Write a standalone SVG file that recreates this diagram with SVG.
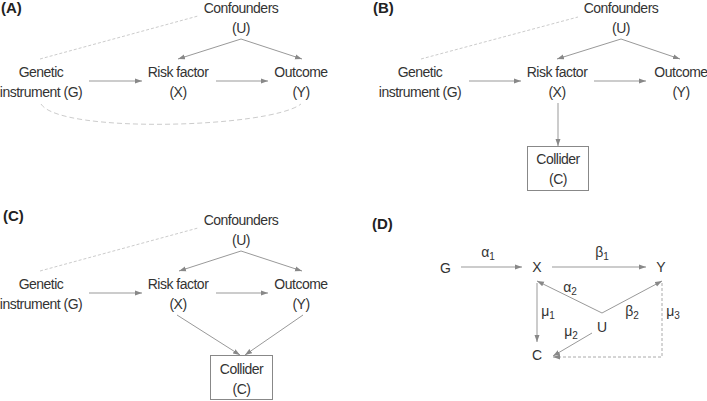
<svg xmlns="http://www.w3.org/2000/svg" width="707" height="401" viewBox="0 0 707 401">
<defs>
<marker id="ah" markerUnits="userSpaceOnUse" markerWidth="7" markerHeight="6" refX="7" refY="3" orient="auto">
<path d="M0,0.5 L7,3 L0,5.5 z" fill="#888"/>
</marker>
<style>
text{font-family:"Liberation Sans",Arial,sans-serif;fill:#333;font-size:14px;letter-spacing:-0.5px;text-anchor:middle}
.lbl{font-weight:bold;font-size:15px;letter-spacing:0;text-anchor:start;fill:#222}
.ar{stroke:#999;stroke-width:1;fill:none;marker-end:url(#ah)}
.dl{stroke:#ccc;stroke-width:1;fill:none;stroke-dasharray:3 2}
.dc{stroke:#ccc;stroke-width:1;fill:none;stroke-dasharray:5 3}
.dd{stroke:#aaa;stroke-width:1;fill:none;stroke-dasharray:3 2;marker-end:url(#ah)}
.box{fill:#fff;stroke:#888;stroke-width:1}
.sub{font-size:10px;letter-spacing:0}
.dn{letter-spacing:0}
</style>
</defs>
<rect width="707" height="401" fill="#fff"/>

<!-- Panel labels -->
<g id="labels">
<text class="lbl" x="1" y="13">(A)</text>
<text class="lbl" x="373" y="13">(B)</text>
<text class="lbl" x="3" y="221">(C)</text>
<text class="lbl" x="372" y="229">(D)</text>
</g>

<!-- Connectors -->
<g id="connectors">
<!-- A -->
<line class="dl" x1="40" y1="59" x2="198" y2="16"/>
<path class="dc" d="M41,104 C60,134 270,128 301,104"/>
<line class="ar" x1="89" y1="81" x2="142" y2="81"/>
<line class="ar" x1="216" y1="81" x2="268" y2="81"/>
<line class="ar" x1="241" y1="39" x2="178" y2="59"/>
<line class="ar" x1="241" y1="39" x2="302" y2="59"/>
<!-- B -->
<line class="dl" x1="421" y1="59" x2="578" y2="17"/>
<line class="ar" x1="469" y1="81" x2="521" y2="81"/>
<line class="ar" x1="594" y1="81" x2="646" y2="81"/>
<line class="ar" x1="621" y1="39" x2="557" y2="59"/>
<line class="ar" x1="621" y1="39" x2="680" y2="59"/>
<line class="ar" x1="558" y1="103" x2="558" y2="146"/>
<!-- C -->
<line class="dl" x1="40" y1="271" x2="198" y2="228"/>
<line class="ar" x1="89" y1="293" x2="142" y2="293"/>
<line class="ar" x1="216" y1="293" x2="268" y2="293"/>
<line class="ar" x1="241" y1="251" x2="179" y2="271"/>
<line class="ar" x1="241" y1="251" x2="302" y2="271"/>
<line class="ar" x1="177" y1="315" x2="240" y2="355"/>
<line class="ar" x1="303" y1="315" x2="245" y2="355"/>
<!-- D -->
<line class="ar" x1="461" y1="267" x2="522" y2="267"/>
<line class="ar" x1="552" y1="267" x2="646" y2="267"/>
<line class="ar" x1="602" y1="313" x2="537" y2="281"/>
<line class="ar" x1="602" y1="313" x2="662" y2="281"/>
<line class="ar" x1="537" y1="283" x2="537" y2="342"/>
<line class="ar" x1="592" y1="333" x2="553" y2="356"/>
<path class="dd" d="M662,283 L662,357 L553,357"/>
</g>

<!-- Panel A nodes -->
<g id="A-U"><text x="241" y="13">Confounders</text><text x="241" y="33">(U)</text></g>
<g id="A-G"><text x="41" y="77">Genetic</text><text x="41" y="97">instrument (G)</text></g>
<g id="A-X"><text x="178" y="77">Risk factor</text><text x="178" y="97">(X)</text></g>
<g id="A-Y"><text x="301" y="77">Outcome</text><text x="301" y="97">(Y)</text></g>

<!-- Panel B nodes -->
<g id="B-U"><text x="621" y="13">Confounders</text><text x="621" y="33">(U)</text></g>
<g id="B-G"><text x="420" y="77">Genetic</text><text x="420" y="97">instrument (G)</text></g>
<g id="B-X"><text x="557" y="77">Risk factor</text><text x="557" y="97">(X)</text></g>
<g id="B-Y"><text x="681" y="77">Outcome</text><text x="681" y="97">(Y)</text></g>
<g id="B-C"><rect class="box" x="527.5" y="146.5" width="61" height="44"/><text x="558" y="164">Collider</text><text x="558" y="184">(C)</text></g>

<!-- Panel C nodes -->
<g id="C-U"><text x="241" y="225">Confounders</text><text x="241" y="245">(U)</text></g>
<g id="C-G"><text x="41" y="289">Genetic</text><text x="41" y="309">instrument (G)</text></g>
<g id="C-X"><text x="178" y="289">Risk factor</text><text x="178" y="309">(X)</text></g>
<g id="C-Y"><text x="301" y="289">Outcome</text><text x="301" y="309">(Y)</text></g>
<g id="C-C"><rect class="box" x="210.5" y="355.5" width="62" height="44"/><text x="241.5" y="374">Collider</text><text x="241.5" y="394">(C)</text></g>

<!-- Panel D nodes -->
<g id="D-G"><text class="dn" x="445.5" y="273">G</text></g>
<g id="D-X"><text class="dn" x="537" y="272">X</text></g>
<g id="D-Y"><text class="dn" x="661" y="272">Y</text></g>
<g id="D-U"><text class="dn" x="602" y="332">U</text></g>
<g id="D-C"><text class="dn" x="537" y="360">C</text></g>
<g id="D-labels">
<text class="dn" x="488" y="257">α<tspan class="sub" dy="3">1</tspan></text>
<text class="dn" x="602" y="257">β<tspan class="sub" dy="3">1</tspan></text>
<text class="dn" x="570" y="292">α<tspan class="sub" dy="3">2</tspan></text>
<text class="dn" x="632" y="316">β<tspan class="sub" dy="3">2</tspan></text>
<text class="dn" x="548" y="316">μ<tspan class="sub" dy="3">1</tspan></text>
<text class="dn" x="571" y="336">μ<tspan class="sub" dy="3">2</tspan></text>
<text class="dn" x="673" y="316">μ<tspan class="sub" dy="3">3</tspan></text>
</g>
</svg>
